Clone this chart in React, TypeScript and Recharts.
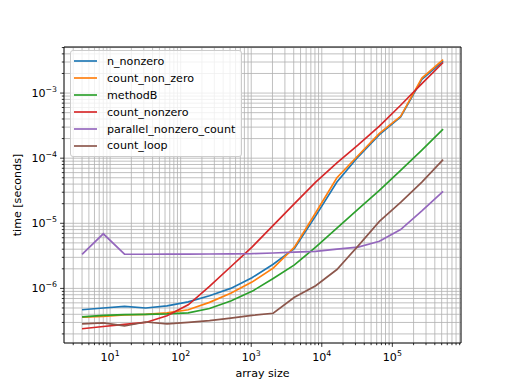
import React from 'react';
import { LineChart, Line, XAxis, YAxis, CartesianGrid, Legend, ReferenceArea } from 'recharts';

// array sizes (powers of two) and measured times in seconds
const sizes = [4, 8, 16, 32, 64, 128, 256, 512, 1024, 2048, 4096, 8192, 16384, 32768, 65536, 131072, 262144, 524288];

const nNonzero = [4.7e-7, 5.0e-7, 5.3e-7, 5.0e-7, 5.4e-7, 6.2e-7, 7.7e-7, 1.0e-6, 1.46e-6, 2.35e-6, 4.1e-6, 1.3e-5, 4.3e-5, 1.05e-4, 2.3e-4, 4.3e-4, 1.62e-3, 3.1e-3];
const countNonZero = [3.6e-7, 3.7e-7, 3.9e-7, 4.0e-7, 4.2e-7, 4.7e-7, 6.1e-7, 8.4e-7, 1.25e-6, 2.05e-6, 4.3e-6, 1.45e-5, 5.0e-5, 1.1e-4, 2.4e-4, 4.4e-4, 1.7e-3, 3.25e-3];
const methodB = [3.65e-7, 3.85e-7, 3.95e-7, 4.0e-7, 4.05e-7, 4.2e-7, 4.9e-7, 6.4e-7, 9.0e-7, 1.42e-6, 2.3e-6, 4.3e-6, 8.4e-6, 1.65e-5, 3.2e-5, 6.5e-5, 1.33e-4, 2.8e-4];
const countNonzero = [2.4e-7, 2.6e-7, 2.8e-7, 3.0e-7, 3.8e-7, 5.6e-7, 1.07e-6, 2.15e-6, 4.3e-6, 9.3e-6, 2.0e-5, 4.3e-5, 8.5e-5, 1.6e-4, 3.1e-4, 6.5e-4, 1.4e-3, 2.95e-3];
const parallelNonzeroCount = [3.33e-6, 6.9e-6, 3.35e-6, 3.35e-6, 3.36e-6, 3.37e-6, 3.38e-6, 3.4e-6, 3.42e-6, 3.5e-6, 3.6e-6, 3.7e-6, 4.0e-6, 4.3e-6, 5.3e-6, 8.0e-6, 1.55e-5, 3.1e-5];
const countLoop = [2.85e-7, 2.95e-7, 2.65e-7, 3.05e-7, 2.85e-7, 3.0e-7, 3.2e-7, 3.5e-7, 3.85e-7, 4.15e-7, 7.3e-7, 1.1e-6, 1.95e-6, 4.5e-6, 1.07e-5, 2.1e-5, 4.3e-5, 9.5e-5];

const series = [
    { key: 'n_nonzero', values: nNonzero, color: '#1f77b4' },
    { key: 'count_non_zero', values: countNonZero, color: '#ff7f0e' },
    { key: 'methodB', values: methodB, color: '#2ca02c' },
    { key: 'count_nonzero', values: countNonzero, color: '#d62728' },
    { key: 'parallel_nonzero_count', values: parallelNonzeroCount, color: '#9467bd' },
    { key: 'count_loop', values: countLoop, color: '#8c564b' },
];

const X_MIN = 2.22;
const X_MAX = 9.4e5;
const Y_MIN = 1.45e-7;
const Y_MAX = 5.1e-3;

// major + minor log ticks (1..9 per decade)
const logTicks = (lo: number, hi: number) => {
    const out: number[] = [];
    for (let e = Math.floor(Math.log10(lo)); e <= Math.ceil(Math.log10(hi)); e++) {
        for (let d = 1; d <= 9; d++) {
            const v = d * Math.pow(10, e);
            if (v >= lo && v <= hi) out.push(v);
        }
    }
    return out;
};
const xTicks = logTicks(X_MIN, X_MAX);
const yTicks = logTicks(Y_MIN, Y_MAX);

const W = 512;
const H = 384;
const PLOT_LEFT = 64;
const PLOT_TOP = 47;
const PLOT_RIGHT = 461;
const PLOT_BOTTOM = 343;
const FONT = '"DejaVu Sans", sans-serif';

const isMajor = (v: number) => {
    const e = Math.round(Math.log10(v));
    return Math.abs(v / Math.pow(10, e) - 1) < 1e-6;
};

const XTick = ({ x, payload }: any) => {
    const v = payload.value;
    const major = isMajor(v);
    const e = Math.round(Math.log10(v));
    return (
        <g>
            <line x1={x} x2={x} y1={PLOT_BOTTOM} y2={PLOT_BOTTOM + (major ? 3.9 : 2.2)} stroke="#000" strokeWidth={0.8} />
            {major && (
                <text x={x} y={PLOT_BOTTOM + 18} textAnchor="middle" fontFamily={FONT} fontSize={11.1} fill="#000">
                    10<tspan dy={-5} fontSize={7.8}>{e}</tspan>
                </text>
            )}
        </g>
    );
};

const YTick = ({ y, payload }: any) => {
    const v = payload.value;
    const major = isMajor(v);
    const e = Math.round(Math.log10(v));
    return (
        <g>
            <line x1={PLOT_LEFT} x2={PLOT_LEFT - (major ? 3.9 : 2.2)} y1={y} y2={y} stroke="#000" strokeWidth={0.8} />
            {major && (
                <text x={PLOT_LEFT - 7} y={y + 4} textAnchor="end" fontFamily={FONT} fontSize={11.1} fill="#000">
                    10<tspan dy={-5} fontSize={7.8}>{'\u2212' + Math.abs(e)}</tspan>
                </text>
            )}
        </g>
    );
};

// legend drawn in series order (recharts would sort it by name)
const renderLegend = () => (
    <div
        style={{
            background: 'rgba(255,255,255,0.8)',
            border: '1px solid #cccccc',
            borderRadius: 3,
            padding: '2px 6px 2px 3px',
            fontFamily: FONT,
            fontSize: 11.1,
            color: '#000',
        }}
    >
        {series.map((s) => (
            <div key={s.key} style={{ display: 'flex', alignItems: 'center', height: 16.9 }}>
                <svg width={23} height={4} style={{ marginRight: 10, display: 'block' }}>
                    <line x1={0} x2={23} y1={2} y2={2} stroke={s.color} strokeWidth={1.67} />
                </svg>
                <span>{s.key}</span>
            </div>
        ))}
    </div>
);

export default function App() {
    const data = sizes.map((n, i) => {
        const row: Record<string, number> = { n };
        series.forEach((s) => {
            row[s.key] = s.values[i];
        });
        return row;
    });

    return (
        <div style={{ position: 'absolute', left: 0, top: 0, width: W, height: H, background: '#fff' }}>
            <LineChart
                width={W}
                height={H}
                data={data}
                margin={{ top: PLOT_TOP, right: W - PLOT_RIGHT, left: 0, bottom: 0 }}
            >
                <CartesianGrid stroke="#b0b0b0" strokeWidth={0.8} />
                <XAxis
                    dataKey="n"
                    type="number"
                    scale="log"
                    domain={[X_MIN, X_MAX]}
                    allowDataOverflow
                    ticks={xTicks}
                    interval={0}
                    tick={<XTick />}
                    tickLine={false}
                    axisLine={false}
                    height={H - PLOT_BOTTOM}
                    label={{
                        value: 'array size',
                        content: () => (
                            <text x={(PLOT_LEFT + PLOT_RIGHT) / 2} y={377} textAnchor="middle" fontFamily={FONT} fontSize={11.1} fill="#000">
                                array size
                            </text>
                        ),
                    }}
                />
                <YAxis
                    type="number"
                    scale="log"
                    domain={[Y_MIN, Y_MAX]}
                    allowDataOverflow
                    ticks={yTicks}
                    interval={0}
                    tick={<YTick />}
                    tickLine={false}
                    axisLine={false}
                    width={PLOT_LEFT}
                    label={{
                        value: 'time [seconds]',
                        content: () => (
                            <text
                                x={21}
                                y={(PLOT_TOP + PLOT_BOTTOM) / 2}
                                textAnchor="middle"
                                fontFamily={FONT}
                                fontSize={11.1}
                                fill="#000"
                                transform={`rotate(-90 21 ${(PLOT_TOP + PLOT_BOTTOM) / 2})`}
                            >
                                time [seconds]
                            </text>
                        ),
                    }}
                />
                {series.map((s) => (
                    <Line
                        key={s.key}
                        dataKey={s.key}
                        type="linear"
                        stroke={s.color}
                        strokeWidth={1.67}
                        dot={false}
                        activeDot={false}
                        isAnimationActive={false}
                    />
                ))}
                <ReferenceArea
                    x1={X_MIN}
                    x2={X_MAX}
                    y1={Y_MIN}
                    y2={Y_MAX}
                    fill="none"
                    stroke="#000"
                    strokeWidth={0.9}
                    ifOverflow="visible"
                />
                <Legend
                    layout="vertical"
                    align="center"
                    verticalAlign="middle"
                    content={renderLegend}
                    wrapperStyle={{ left: 70, top: 50, width: 'auto', height: 'auto' }}
                />
            </LineChart>
        </div>
    );
}
